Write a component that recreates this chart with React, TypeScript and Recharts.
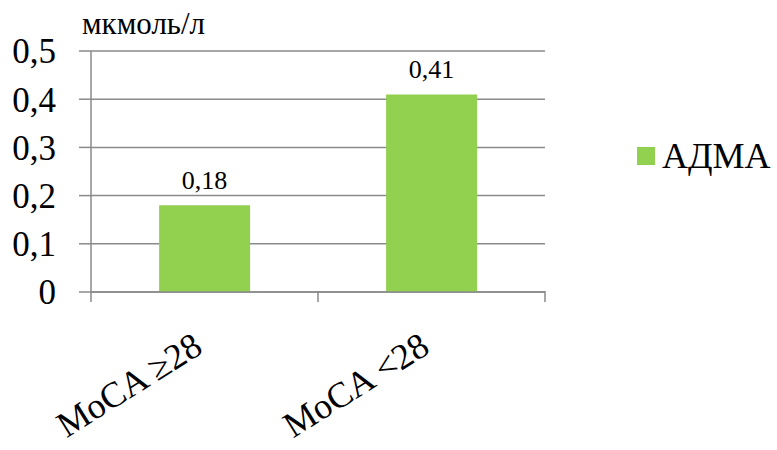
import React from "react";
import { BarChart, Bar, XAxis, YAxis, CartesianGrid, LabelList } from "recharts";

const groups = ["MoCA ≥28", "MoCA <28"];
const admaValues = [0.18, 0.41];
const yTicks = [0, 0.1, 0.2, 0.3, 0.4, 0.5];
const unitLabel = "мкмоль/л";
const seriesName = "АДМА";

const data = groups.map((g, i) => ({ group: g, adma: admaValues[i] }));

const FONT = "'Liberation Serif', 'Times New Roman', serif";
const GREEN = "#92d050";
const GRID = "#8a8a8a";

const comma = (v: number) => String(v).replace(".", ",");

// category label rotated up-right, plus tick marks on the category boundaries
function RotatedTick(props: any) {
  const { x, y, payload, index, visibleTicksCount } = props;
  const half = payload && payload.offset ? payload.offset : 113.5;
  const ax = x;
  const ay = y + 60;
  const isLast = index === (visibleTicksCount ?? groups.length) - 1;
  return (
    <g>
      <line x1={x - half} y1={y - 1} x2={x - half} y2={y + 10} stroke={GRID} strokeWidth={1.5} />
      {isLast && <line x1={x + half} y1={y - 1} x2={x + half} y2={y + 10} stroke={GRID} strokeWidth={1.5} />}
      <text
        x={ax}
        y={ay}
        transform={`rotate(-32, ${ax}, ${ay})`}
        textAnchor="end"
        style={{ fontFamily: FONT }}
        fontSize={36}
        fill="#000"
      >
        {payload.value}
      </text>
    </g>
  );
}

export default function App() {
  return (
    <div style={{ position: "absolute", left: 0, top: 0, width: 777, height: 450, background: "#fff" }}>
      <BarChart
        width={777}
        height={450}
        data={data}
        margin={{ top: 51, right: 232, bottom: 8, left: 0 }}
        barCategoryGap="30%"
      >
        <CartesianGrid vertical={false} stroke={GRID} strokeWidth={1.5} />
        <XAxis
          dataKey="group"
          stroke={GRID}
          strokeWidth={1.5}
          tickLine={false}
          tickSize={0}
          tickMargin={0}
          height={150}
          interval={0}
          tick={<RotatedTick />}
        />
        <YAxis
          width={91}
          domain={[0, 0.5]}
          ticks={yTicks}
          tickFormatter={comma}
          tickSize={12}
          tickMargin={23}
          stroke={GRID}
          strokeWidth={1.5}
          tick={{ fill: "#000", fontSize: 35, style: { fontFamily: FONT } }}
        />
        <Bar dataKey="adma" name={seriesName} fill={GREEN} isAnimationActive={false}>
          <LabelList
            dataKey="adma"
            position="top"
            offset={16}
            formatter={(v: any) => comma(v)}
            style={{ fill: "#000", fontSize: 26, fontFamily: FONT }}
          />
        </Bar>
      </BarChart>
      <div
        style={{
          position: "absolute",
          left: 82,
          top: 7,
          fontFamily: FONT,
          fontSize: 31,
          lineHeight: "34px",
          color: "#000",
        }}
      >
        {unitLabel}
      </div>
      <div
        style={{
          position: "absolute",
          left: 637,
          top: 135,
          display: "flex",
          alignItems: "center",
          fontFamily: FONT,
          fontSize: 36,
          lineHeight: "42px",
          color: "#000",
        }}
      >
        <span style={{ width: 18, height: 18, background: GREEN, display: "inline-block", marginRight: 7 }} />
        <span>{seriesName}</span>
      </div>
    </div>
  );
}
